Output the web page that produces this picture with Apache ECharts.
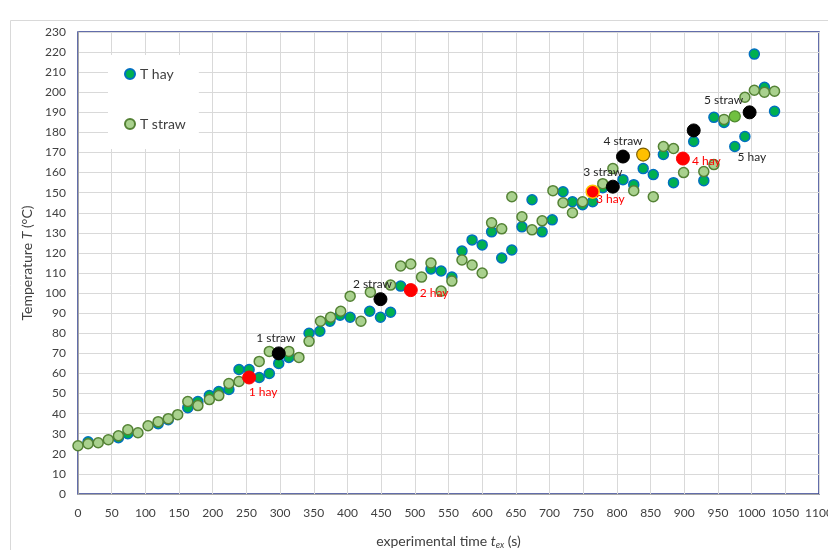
<!DOCTYPE html>
<html>
<head>
<meta charset="utf-8">
<script src="https://cdn.jsdelivr.net/npm/echarts@6/dist/echarts.min.js"></script>
<style>html,body{margin:0;padding:0;background:#fff}#c{width:828px;height:550px}</style>
</head>
<body>
<div id="c"></div>
<script>
// ---- data (t in s, T in °C) ----
const hay = [
  [15,26],[60,28],[74,30],[119,35],[134,37],[163,43],[178,46],[195,49],[209,51],[224,52],
  [239,62],[254,62],[269,58],[284,60],[298,65],[313,68],[343,80],[359,81],[374,86],[389,89],
  [404,88],[433,91],[449,88],[464,90.5],[479,103.5],[524,112],[539,111],[555,108],[570,121],[585,126.5],
  [600,124],[614,130.5],[629,117.5],[644,121.5],[659,133],[674,146.5],[689,130.5],[704,136.5],[720,150.5],[734,145.5],
  [749,144],[764,145.5],[779,152.5],[809,156.5],[825,154],[839,162],[854,159],[869,169],[884,155],[914,175.5],
  [929,156],[944,187.5],[959,185],[975,173],[1004,219],[1019,202.5],[1034,190.5]
];
const straw = [
  [0,24],[15,25],[30,25.5],[45,27],[60,29],[74,32],[89,30.5],[104,34],[119,36],[134,37.5],
  [148,39.5],[163,46],[178,44],[195,47],[209,49],[224,55],[239,56],[269,66],[284,71],[313,71],
  [328,68],[343,76],[360,86],[375,88],[390,91],[404,98.5],[420,86],[434,100.5],[464,104],[479,113.5],
  [494,114.5],[510,108],[524,115],[539,101],[555,106],[570,116.5],[585,114],[600,110],[614,135],[629,132],
  [644,148],[659,138],[674,131.5],[689,136],[705,151],[720,145],[734,140],[749,145.5],[779,154.5],[794,162],
  [825,151],[854,148],[869,173],[884,172],[899,160],[929,160.5],[944,164],[959,186.5],[990,197.5],[1004,201],
  [1019,200],[1034,200.5]
];
// labelled measurement points
const strawMarks = [[298,70,'1 straw'],[449,97,'2 straw'],[794,153,'3 straw'],[809,168,'4 straw'],[914,181,''],[997,190,'5 straw']];
const hayMarks = [[254,58,'1 hay'],[494,101.5,'2 hay'],[764,150.5,'3 hay'],[898,167,'4 hay']];
const hayMark5 = [[990,178,'5 hay']];
const orangeMarks = [[839,169]];
const greenMarks = [[975,188]];
const xTicks = {min:0, max:1100, step:50};
const yTicks = {min:0, max:230, step:10};

// ---- styles ----
const FONT = 'Lato, "Open Sans", sans-serif';
const labelLayout = {
  '1 straw': {position:'top', offset:[-3,0]},
  '2 straw': {position:'top', offset:[-8,0]},
  '3 straw': {position:'top', offset:[-10,0]},
  '4 straw': {position:'top', offset:[0,0]},
  '5 straw': {position:'top', offset:[-26,3]},
  '1 hay': {position:'bottom', offset:[14,0]},
  '2 hay': {position:'right', offset:[0,3]},
  '3 hay': {position:'right', offset:[-6,7]},
  '4 hay': {position:'right', offset:[0,3]},
  '5 hay': {position:'bottom', offset:[7,7]}
};
const markBorder = {'3 hay':'#ffc000'};
function marks(arr, color, fill){
  return arr.map(p => {
    const lay = labelLayout[p[2]] || {position:'top', offset:[0,0]};
    const d = {
      value:[p[0],p[1]],
      label:{show: !!p[2], formatter: p[2] || '', position: lay.position, offset: lay.offset,
             distance:2, color: color, fontSize:12, fontFamily: FONT}
    };
    if (markBorder[p[2]]) d.itemStyle = {borderColor: markBorder[p[2]], borderWidth:1.5};
    return d;
  });
}

const chart = echarts.init(document.getElementById('c'), null, {renderer:'canvas'});
chart.setOption({
  animation:false,
  backgroundColor:'#fff',
  graphic:[{type:'rect', shape:{x:10.5,y:20.5,width:830,height:540}, style:{fill:'none', stroke:'#d9d9d9', lineWidth:1}, z:-10}],
  grid:{left:78, right:9, top:32, bottom:56, show:true, borderColor:'#2f3e8f', borderWidth:1.5,
        backgroundColor:'transparent', containLabel:false, outerBoundsMode:'none'},
  legend:{
    orient:'vertical', left:108, top:55, data:['T hay','T straw'],
    backgroundColor:'#ffffff', padding:[12,13,18,16], itemGap:36, itemWidth:10, itemHeight:10,
    textStyle:{fontSize:14, color:'#404040', fontFamily:FONT}
  },
  xAxis:{
    type:'value', min:xTicks.min, max:xTicks.max, interval:xTicks.step,
    axisLine:{show:true, lineStyle:{color:'#a6a6a6', width:1}},
    axisTick:{show:false},
    splitLine:{show:true, lineStyle:{color:'#d9d9d9', width:1}},
    axisLabel:{color:'#404040', fontSize:12, fontFamily:FONT, margin:13, formatter: v => String(v)},
    name:'{n|experimental time }{i|t}{s|ex}{n| (s)}', nameLocation:'middle', nameGap:38,
    nameTextStyle:{rich:{
      n:{fontSize:14, color:'#404040', fontFamily:FONT},
      i:{fontSize:14, color:'#404040', fontFamily:FONT, fontStyle:'italic'},
      s:{fontSize:9, color:'#404040', fontFamily:FONT, fontStyle:'italic', padding:[9,0,0,0]}
    }}
  },
  yAxis:{
    type:'value', min:yTicks.min, max:yTicks.max, interval:yTicks.step,
    axisLine:{show:true, lineStyle:{color:'#a6a6a6', width:1}},
    axisTick:{show:false},
    splitLine:{show:true, lineStyle:{color:'#d9d9d9', width:1}},
    axisLabel:{color:'#404040', fontSize:12, fontFamily:FONT, margin:12, formatter: v => String(v)},
    name:'{n|Temperature }{i|T}{n| (°C)}', nameLocation:'middle', nameGap:38, nameRotate:90,
    nameTextStyle:{rich:{
      n:{fontSize:14, color:'#404040', fontFamily:FONT},
      i:{fontSize:14, color:'#404040', fontFamily:FONT, fontStyle:'italic'}
    }}
  },
  series:[
    {name:'T hay', type:'scatter', data:hay, symbolSize:10,
     itemStyle:{color:'#00b050', borderColor:'#0070c0', borderWidth:1.5, opacity:1}, z:2},
    {name:'T straw', type:'scatter', data:straw, symbolSize:10,
     itemStyle:{color:'#a9d18e', borderColor:'#548235', borderWidth:1.5, opacity:1}, z:3},
    {name:'hay5', type:'scatter', data:marks(hayMark5,'#262626'), symbolSize:10,
     itemStyle:{color:'#00b050', borderColor:'#0070c0', borderWidth:1.5, opacity:1}, z:3},
    {name:'straw marks', type:'scatter', data:marks(strawMarks,'#262626'), symbolSize:13,
     itemStyle:{color:'#000000', borderColor:'#000000', borderWidth:1, opacity:1}, z:5},
    {name:'hay marks', type:'scatter', data:marks(hayMarks,'#ff0000'), symbolSize:13,
     itemStyle:{color:'#ff0000', borderColor:'#ff0000', borderWidth:1, opacity:1}, z:5},
    {name:'orange', type:'scatter', data:orangeMarks, symbolSize:13,
     itemStyle:{color:'#ffc000', borderColor:'#7f6000', borderWidth:1.2, opacity:1}, z:5},
    {name:'green', type:'scatter', data:greenMarks, symbolSize:11,
     itemStyle:{color:'#70c040', borderColor:'#4e8a2e', borderWidth:1.2, opacity:1}, z:5}
  ]
});
</script>
</body>
</html>
